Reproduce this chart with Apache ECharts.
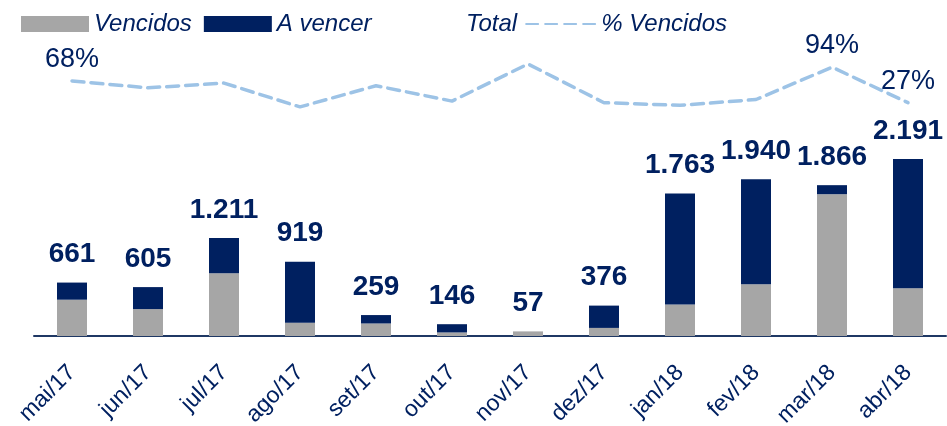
<!DOCTYPE html>
<html lang="pt">
<head>
    <meta charset="UTF-8">
    <title>Vencidos e A vencer</title>
    <script src="https://cdn.jsdelivr.net/npm/echarts@6/dist/echarts.min.js"></script>
    <style>
        body { margin: 0; padding: 0; background: #fff; }
        #chart { width: 947px; height: 426px; }
    </style>
</head>
<body>
    <div id="chart"></div>
    <script>
        var meses = ['mai/17', 'jun/17', 'jul/17', 'ago/17', 'set/17', 'out/17', 'nov/17', 'dez/17', 'jan/18', 'fev/18', 'mar/18', 'abr/18'];
        var vencidos = [449, 333, 775, 165, 155, 44, 57, 100, 390, 640, 1754, 592];
        var aVencer = [212, 272, 436, 754, 104, 102, 0, 276, 1373, 1300, 112, 1599];
        var totais = [661, 605, 1211, 919, 259, 146, 57, 376, 1763, 1940, 1866, 2191];
        var pctVencidos = [68, 55, 64, 19, 59, 30, 100, 27, 22, 33, 94, 27];
        var pctComRotulo = [0, 10, 11];

        var azul = '#002060';
        var cinza = '#A6A6A6';
        var fonte = "'Liberation Sans Narrow', 'Liberation Sans', sans-serif";

        var chart = echarts.init(document.getElementById('chart'));

        var option = {
            animation: false,
            textStyle: { fontFamily: fonte },
            legend: [
                {
                    left: 16, top: 7,
                    itemWidth: 68, itemHeight: 16, itemGap: 12,
                    icon: 'rect',
                    data: ['Vencidos', 'A vencer'],
                    textStyle: { fontSize: 24, fontStyle: 'italic', color: azul, fontFamily: fonte }
                },
                {
                    left: 386, top: 7,
                    itemWidth: 70, itemHeight: 16, itemGap: 8,
                    data: ['Total', '% Vencidos'],
                    textStyle: { fontSize: 24, fontStyle: 'italic', color: azul, fontFamily: fonte }
                }
            ],
            grid: [
                { left: 34, right: 1, top: 142, bottom: 90, outerBoundsMode: 'none', containLabel: false },
                { left: 34, right: 1, top: 64, bottom: 309, outerBoundsMode: 'none', containLabel: false }
            ],
            xAxis: [
                {
                    type: 'category',
                    gridIndex: 0,
                    data: meses,
                    axisLine: { lineStyle: { color: '#1F3864', width: 2 } },
                    axisTick: { show: false },
                    axisLabel: { rotate: 45, margin: 33, fontSize: 23, color: azul, fontFamily: fonte }
                },
                {
                    type: 'category',
                    gridIndex: 1,
                    data: meses,
                    show: false
                }
            ],
            yAxis: [
                { type: 'value', gridIndex: 0, min: 0, max: 2400, show: false },
                { type: 'value', gridIndex: 1, min: 0, max: 100, show: false }
            ],
            series: [
                {
                    name: 'Vencidos',
                    type: 'bar',
                    stack: 'total',
                    barWidth: 30,
                    itemStyle: { color: cinza },
                    data: vencidos
                },
                {
                    name: 'A vencer',
                    type: 'bar',
                    stack: 'total',
                    barWidth: 30,
                    itemStyle: { color: azul },
                    data: aVencer
                },
                {
                    name: 'Total',
                    type: 'line',
                    symbol: 'circle',
                    symbolSize: 2,
                    showSymbol: true,
                    lineStyle: { color: 'transparent', width: 0 },
                    itemStyle: { color: 'transparent' },
                    label: {
                        show: true,
                        position: 'top',
                        distance: 13,
                        fontSize: 28,
                        fontWeight: 'bold',
                        color: azul,
                        fontFamily: "'Liberation Sans', sans-serif",
                        formatter: function (p) {
                            return p.value.toLocaleString('pt-BR');
                        }
                    },
                    data: totais
                },
                {
                    name: '% Vencidos',
                    type: 'line',
                    xAxisIndex: 1,
                    yAxisIndex: 1,
                    symbol: 'circle',
                    symbolSize: 2,
                    showSymbol: true,
                    lineStyle: { color: '#9DC3E6', width: 3.5, type: [12, 7], cap: 'round' },
                    itemStyle: { color: 'transparent' },
                    label: {
                        position: 'top',
                        distance: 7,
                        fontSize: 27,
                        color: azul,
                        formatter: '{c}%'
                    },
                    data: pctVencidos.map(function (v, i) {
                        return { value: v, label: { show: pctComRotulo.indexOf(i) >= 0 } };
                    })
                }
            ]
        };

        chart.setOption(option);
    </script>
</body>
</html>
